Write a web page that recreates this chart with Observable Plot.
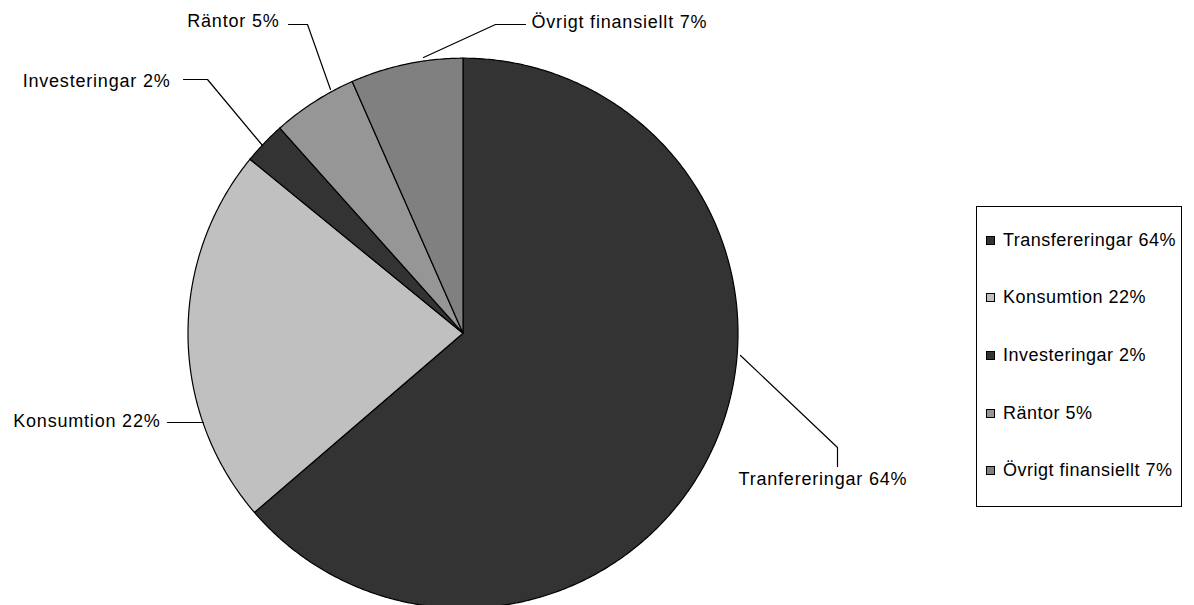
<!DOCTYPE html>
<html><head><meta charset="utf-8">
<script src="https://cdn.jsdelivr.net/npm/d3@7"></script>
<script src="https://cdn.jsdelivr.net/npm/@observablehq/plot@0.6"></script>
<style>
body{margin:0;background:#fff;font-family:"Liberation Sans",Arial,sans-serif;}
#wrap{position:relative;width:1194px;height:605px;overflow:hidden;background:#fff;}
#wrap svg text{letter-spacing:0.8px;}
#legend{position:absolute;left:976px;top:206px;width:206px;height:301px;border:1px solid #000;box-sizing:border-box;background:#fff;}
.item{position:absolute;left:9px;height:20px;display:flex;align-items:center;font-size:18px;letter-spacing:0.5px;color:#000;white-space:nowrap;}
.sw{width:9px;height:9px;border:1px solid #000;box-sizing:border-box;margin-right:8px;flex:none;}
</style></head>
<body>
<div id="wrap"><div id="chart"></div><div id="legend"></div></div>
<script>
// ---- data ----
const categories = ["Transfereringar", "Konsumtion", "Investeringar", "Räntor", "Övrigt finansiellt"];
const shares = [63.7, 22.2, 2.5, 5.0, 6.6];
const legendLabels = ["Transfereringar 64%", "Konsumtion 22%", "Investeringar 2%", "Räntor 5%", "Övrigt finansiellt 7%"];
const sliceLabels = ["Tranfereringar 64%", "Konsumtion 22%", "Investeringar 2%", "Räntor 5%", "Övrigt finansiellt 7%"];
const colors = ["#333333", "#c0c0c0", "#333333", "#969696", "#808080"];

// ---- layout ----
const W = 1194, H = 605, CX = 462.5, CY = 332.7, R = 275;
const toX = px => (px - CX) / R;
const toY = py => (CY - py) / R;
// label placement (pixels), as positioned in the original chart
const labelLayout = [
  {tx: 738, ty: 479, anchor: "start", path: [[740, 355], [837, 447], [837, 466]]},
  {tx: 160, ty: 421, anchor: "end", path: [[167, 422], [203, 422]]},
  {tx: 170, ty: 81, anchor: "end", path: [[183, 79], [207, 79], [262, 145]]},
  {tx: 279, ty: 21, anchor: "end", path: [[288, 24], [307, 24], [330, 89]]},
  {tx: 531, ty: 21.5, anchor: "start", path: [[525, 24], [495, 24], [423, 57]]}
];

// ---- slice polygons from shares (clockwise from 12 o'clock) ----
const total = d3.sum(shares);
const slices = [];
let cum = 0;
categories.forEach((c, i) => {
  const a0 = cum / total * 2 * Math.PI;
  cum += shares[i];
  const a1 = cum / total * 2 * Math.PI;
  slices.push({key: c, x: 0, y: 0});
  const n = Math.max(2, Math.ceil((a1 - a0) / (Math.PI / 360)));
  for (let k = 0; k <= n; k++) {
    const a = a0 + (a1 - a0) * k / n;
    slices.push({key: c, x: Math.sin(a), y: Math.cos(a)});
  }
  slices.push({key: c, x: 0, y: 0});
});

const leaders = [];
labelLayout.forEach((l, i) => l.path.forEach(([px, py]) => leaders.push({key: categories[i], x: toX(px), y: toY(py)})));
const labels = labelLayout.map((l, i) => ({text: sliceLabels[i], x: toX(l.tx), y: toY(l.ty), anchor: l.anchor}));

const plot = Plot.plot({
  width: W, height: H,
  margin: 0,
  style: {fontFamily: "'Liberation Sans', Arial, sans-serif", background: "#fff"},
  x: {domain: [toX(0), toX(W)], axis: null},
  y: {domain: [toY(H), toY(0)], axis: null},
  color: {domain: categories, range: colors},
  marks: [
    Plot.line(slices, {x: "x", y: "y", z: "key", fill: "key", stroke: "#000", strokeWidth: 1.2, curve: "linear"}),
    Plot.line(leaders, {x: "x", y: "y", z: "key", stroke: "#000", strokeWidth: 1.2}),
    Plot.text(labels.filter(d => d.anchor === "start"), {x: "x", y: "y", text: "text", textAnchor: "start", fontSize: 18, fill: "#000"}),
    Plot.text(labels.filter(d => d.anchor === "end"), {x: "x", y: "y", text: "text", textAnchor: "end", fontSize: 18, fill: "#000"})
  ]
});
document.getElementById("chart").appendChild(plot);

// ---- legend ----
const legend = document.getElementById("legend");
legendLabels.forEach((t, i) => {
  const it = document.createElement("div");
  it.className = "item";
  it.style.top = (239 + i * 57.7 - 206 - 10) + "px";
  const sw = document.createElement("span");
  sw.className = "sw";
  sw.style.background = colors[i];
  it.appendChild(sw);
  it.appendChild(document.createTextNode(t));
  legend.appendChild(it);
});
</script>
</body></html>
